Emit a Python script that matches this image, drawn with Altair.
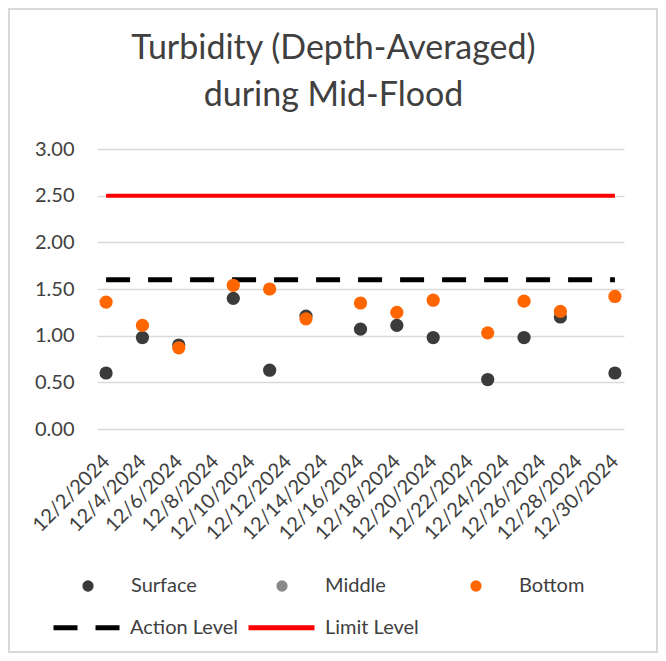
import altair as alt
import pandas as pd

# ---- data ----
dates = ["2024-12-02", "2024-12-04", "2024-12-06", "2024-12-09", "2024-12-11",
         "2024-12-13", "2024-12-16", "2024-12-18", "2024-12-20", "2024-12-23",
         "2024-12-25", "2024-12-27", "2024-12-30"]
surface = [0.60, 0.98, 0.90, 1.40, 0.63, 1.21, 1.07, 1.11, 0.98, 0.53, 0.98, 1.20, 0.60]
bottom = [1.36, 1.11, 0.87, 1.54, 1.50, 1.18, 1.35, 1.25, 1.38, 1.03, 1.37, 1.26, 1.42]

series_names = ["Surface", "Middle", "Bottom"]
series_colors = ["#3b3b3b", "#898989", "#ff6600"]

level_names = ["Action Level", "Limit Level"]
level_values = [1.6, 2.5]
level_colors = ["#000000", "#ff0000"]
level_start = "2024-12-02"
level_end = "2024-12-30"

tick_days = list(range(2, 31, 2))
y_ticks = [0, 0.5, 1.0, 1.5, 2.0, 2.5, 3.0]

title_lines = ["Turbidity (Depth-Averaged)", "during Mid-Flood"]

FONT = "Lato"
TXT = "#404040"

# ---- tables ----
rows = []
for d, v in zip(dates, surface):
    rows.append({"date": d + "T00:00:00", "value": v, "series": "Surface"})
for d, v in zip(dates, bottom):
    rows.append({"date": d + "T00:00:00", "value": v, "series": "Bottom"})
points_df = pd.DataFrame(rows)

levels_df = pd.DataFrame({
    "level": level_names,
    "value": level_values,
    "start": [level_start + "T00:00:00"] * 2,
    "end": [level_end + "T00:00:00"] * 2,
})

x_scale = alt.Scale(domain=[alt.DateTime(year=2024, month=12, date=1, hours=12),
                            alt.DateTime(year=2024, month=12, date=30, hours=12)])
y_scale = alt.Scale(domain=[0, 3], nice=False)

x_axis = alt.Axis(
    values=[alt.DateTime(year=2024, month=12, date=d) for d in tick_days],
    format="%-m/%-d/%Y", labelAngle=315, labelAlign="right", labelBaseline="top",
    labelPadding=22, labelOffset=-7, labelFont=FONT, labelFontSize=20, labelColor=TXT,
    grid=False, domain=False, ticks=False, title=None, labelOverlap=False,
)
y_axis = alt.Axis(
    values=y_ticks, format=".2f", labelFont=FONT, labelFontSize=20, labelColor=TXT,
    labelPadding=23, grid=True, gridColor="#d9d9d9", gridWidth=1.3,
    domain=False, ticks=False, title=None,
)

fill_legend = alt.Legend(
    title=None, orient="none", legendX=-19, legendY=427, direction="horizontal",
    columns=3, symbolType="circle", symbolSize=127, symbolStrokeWidth=0,
    labelFont=FONT, labelFontSize=20, labelColor=TXT, labelOffset=33,
    columnPadding=75, gridAlign="all",
)
stroke_legend = alt.Legend(
    title=None, orient="none", legendX=-46, legendY=443, direction="horizontal",
    columns=2, symbolType="stroke", symbolSize=4356, symbolStrokeWidth=5,
    labelFont=FONT, labelFontSize=20, labelColor=TXT, labelOffset=8,
    columnPadding=0,
)

frame = alt.Chart(pd.DataFrame({"a": [0]})).mark_rect(
    fill=None, stroke="#d9d9d9", strokeWidth=2
).encode(x=alt.value(-88), x2=alt.value(560), y=alt.value(-140), y2=alt.value(503))

stroke_enc = alt.Stroke("level:N", scale=alt.Scale(domain=level_names, range=level_colors),
                        legend=stroke_legend)
dash_enc = alt.StrokeDash("level:N", scale=alt.Scale(domain=level_names, range=[[24, 18], [1, 0]]),
                          legend=stroke_legend)

base_rule = alt.Chart(levels_df)

action = base_rule.mark_rule(strokeWidth=5, strokeCap="butt").encode(
    x=alt.X("start:T", scale=x_scale, axis=x_axis),
    x2="end:T",
    y=alt.Y("value:Q", scale=y_scale, axis=y_axis),
    stroke=stroke_enc, strokeDash=dash_enc,
).transform_filter(alt.datum.level == level_names[0])

limit = base_rule.mark_rule(strokeWidth=4, strokeCap="butt").encode(
    x=alt.X("start:T", scale=x_scale, axis=x_axis),
    x2="end:T",
    y=alt.Y("value:Q", scale=y_scale, axis=y_axis),
    stroke=stroke_enc, strokeDash=dash_enc,
).transform_filter(alt.datum.level == level_names[1])

points = alt.Chart(points_df).mark_point(filled=True, size=175, opacity=1, strokeWidth=0).encode(
    x=alt.X("date:T", scale=x_scale, axis=x_axis),
    y=alt.Y("value:Q", scale=y_scale, axis=y_axis),
    fill=alt.Fill("series:N", scale=alt.Scale(domain=series_names, range=series_colors),
                  legend=fill_legend),
)

chart = alt.layer(frame, action, limit, points).properties(
    width=527, height=280,
    title=alt.TitleParams(title_lines, font=FONT, fontSize=34, fontWeight="normal",
                          color=TXT, anchor="middle", dx=-27, dy=132, lineHeight=47,
                          offset=0, baseline="alphabetic"),
    autosize=alt.AutoSizeParams(type="none"),
    padding={"left": 89, "top": 141, "right": 34, "bottom": 224},
).configure_view(stroke=None)

chart.save("out.html", embed_options={"renderer": "svg", "actions": False})
